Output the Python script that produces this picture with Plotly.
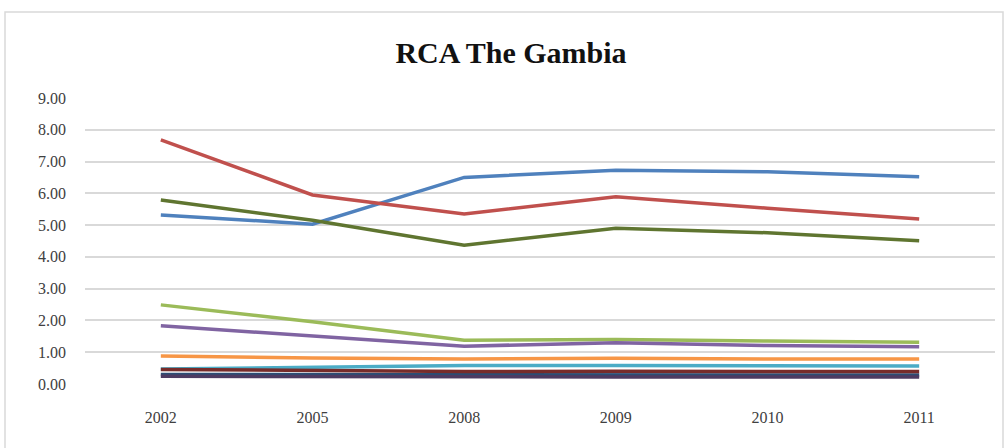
import plotly.graph_objects as go

years = ["2002", "2005", "2008", "2009", "2010", "2011"]
y_ticks = [0, 1, 2, 3, 4, 5, 6, 7, 8, 9]
y_tick_labels = ["0.00", "1.00", "2.00", "3.00", "4.00", "5.00", "6.00", "7.00", "8.00", "9.00"]

series_1 = [5.32, 5.03, 6.50, 6.73, 6.68, 6.52]
series_2 = [7.68, 5.95, 5.35, 5.89, 5.53, 5.19]
series_3 = [2.49, 1.96, 1.38, 1.40, 1.35, 1.31]
series_4 = [1.83, 1.52, 1.19, 1.30, 1.21, 1.17]
series_5 = [0.47, 0.52, 0.58, 0.58, 0.57, 0.57]
series_6 = [0.88, 0.82, 0.79, 0.81, 0.79, 0.79]
series_7 = [0.30, 0.29, 0.28, 0.29, 0.28, 0.28]
series_8 = [0.46, 0.42, 0.39, 0.40, 0.39, 0.39]
series_9 = [5.79, 5.15, 4.37, 4.90, 4.76, 4.51]
series_10 = [0.24, 0.23, 0.21, 0.22, 0.22, 0.22]

series = [
    ("Series 1", series_1, "#4F81BD"),
    ("Series 2", series_2, "#C0504D"),
    ("Series 3", series_3, "#9BBB59"),
    ("Series 4", series_4, "#8064A2"),
    ("Series 5", series_5, "#4BACC6"),
    ("Series 6", series_6, "#F79646"),
    ("Series 7", series_7, "#2C4D75"),
    ("Series 8", series_8, "#772C2A"),
    ("Series 9", series_9, "#5F7530"),
    ("Series 10", series_10, "#4D3B62"),
]

fig = go.Figure()
for name, values, color in series:
    fig.add_trace(go.Scatter(
        x=years, y=values, name=name, mode="lines",
        line=dict(color=color, width=3.5),
    ))

serif = "Liberation Serif, Times New Roman, serif"

fig.update_layout(
    width=1008, height=448,
    margin=dict(l=85, r=13, t=98, b=64),
    paper_bgcolor="white", plot_bgcolor="white",
    showlegend=False,
    title=dict(
        text="<b>RCA The Gambia</b>",
        x=511 / 1008, xanchor="center", xref="container",
        y=1 - 52 / 448, yref="container", yanchor="middle",
        font=dict(family=serif, size=30, color="#111111"),
    ),
    xaxis=dict(
        type="category", categoryorder="array", categoryarray=years,
        range=[-0.5, 5.5],
        showgrid=False, showline=False, zeroline=False, ticks="",
        tickfont=dict(family=serif, size=16, color="#404040"),
        ticklabelstandoff=22,
    ),
    yaxis=dict(
        range=[0, 9], tickvals=y_ticks, ticktext=y_tick_labels,
        showgrid=True, gridcolor="#D9D9D9", gridwidth=1.5,
        zeroline=False, showline=False, ticks="",
        tickfont=dict(family=serif, size=16, color="#404040"),
        ticklabelstandoff=18,
    ),
    shapes=[dict(
        type="rect", xref="paper", yref="paper",
        x0=-0.0879, x1=1.0088, y0=-0.3, y1=1.3007,
        line=dict(color="#D9D9D9", width=1.5), fillcolor="rgba(0,0,0,0)",
        layer="below",
    )],
)

fig.write_html("out.html")
